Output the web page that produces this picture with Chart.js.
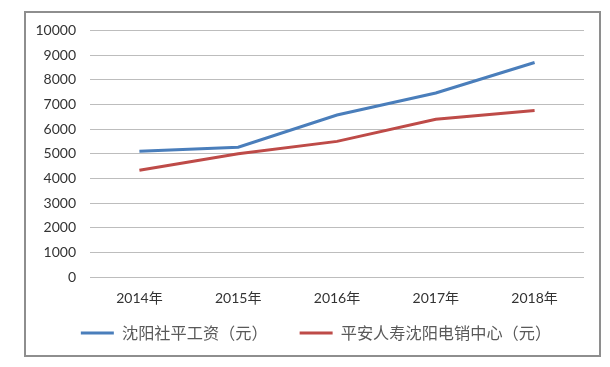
<!DOCTYPE html>
<html>
<head>
<meta charset="utf-8">
<script src="https://cdn.jsdelivr.net/npm/chart.js@4/dist/chart.umd.min.js"></script>
<style>
  html, body { margin: 0; padding: 0; background: #fff; }
  #frame {
    position: absolute; left: 24px; top: 11px;
    width: 577px; height: 346px;
    box-sizing: border-box;
    border: 2px solid #8e8e8e;
  }
  /* 画布比边框内区高一点，往上伸 5px，刻度留白才对得上 */
  #wrap { position: absolute; left: 0; top: -5px; width: 573px; height: 347px; }
</style>
</head>
<body>
<div id="frame"><div id="wrap"><canvas id="c"></canvas></div></div>
<script>
// 数据
const years = ['2014年', '2015年', '2016年', '2017年', '2018年'];
const shenyangAvg = [5100, 5260, 6570, 7460, 8700];
const pinganCenter = [4330, 5000, 5500, 6400, 6750];
const seriesNames = ['沈阳社平工资（元）', '平安人寿沈阳电销中心（元）'];

const tickFont = { family: 'Lato, "Noto Sans CJK SC", sans-serif', size: 14 };
const legendFont = { family: '"Noto Sans CJK SC", sans-serif', size: 16.2 };
const legendPad = 32;

// 图例只挪上边和左边，下边不动（v4 会按图例框裁剪）
const legendShift = {
  id: 'legendShift',
  afterLayout(chart) {
    chart.legend.top = chart.chartArea.bottom + 56 - legendPad - legendFont.size / 2;
    chart.legend.left += 22;
  }
};

new Chart(document.getElementById('c'), {
  type: 'line',
  data: {
    labels: years,
    datasets: [
      { label: seriesNames[0], data: shenyangAvg, borderColor: '#4a7ebb', backgroundColor: '#4a7ebb',
        borderWidth: 3, pointRadius: 0, tension: 0 },
      { label: seriesNames[1], data: pinganCenter, borderColor: '#be4b48', backgroundColor: '#be4b48',
        borderWidth: 3, pointRadius: 0, tension: 0 }
    ]
  },
  options: {
    responsive: true,
    maintainAspectRatio: false,
    animation: false,
    layout: { padding: { top: 11, right: 15, left: 0, bottom: 0 } },
    plugins: {
      tooltip: { enabled: false },
      legend: {
        position: 'bottom',
        maxHeight: 43,
        labels: {
          usePointStyle: true,
          pointStyle: 'line',
          pointStyleWidth: 33,
          padding: legendPad,
          color: '#595959',
          font: legendFont
        }
      }
    },
    scales: {
      x: {
        offset: true,
        grid: { display: false, drawTicks: false },
        border: { display: false },
        ticks: { color: '#333', font: tickFont, padding: 13 },
        afterFit: s => { s.height = 35; }
      },
      y: {
        min: 0, max: 10000,
        ticks: { stepSize: 1000, color: '#333', font: tickFont, padding: 14, callback: v => String(v) },
        grid: { color: '#bdbdbd', lineWidth: 1, drawTicks: false },
        border: { display: false },
        afterFit: s => { s.width = 64; }
      }
    }
  },
  plugins: [legendShift]
});
</script>
</body>
</html>
